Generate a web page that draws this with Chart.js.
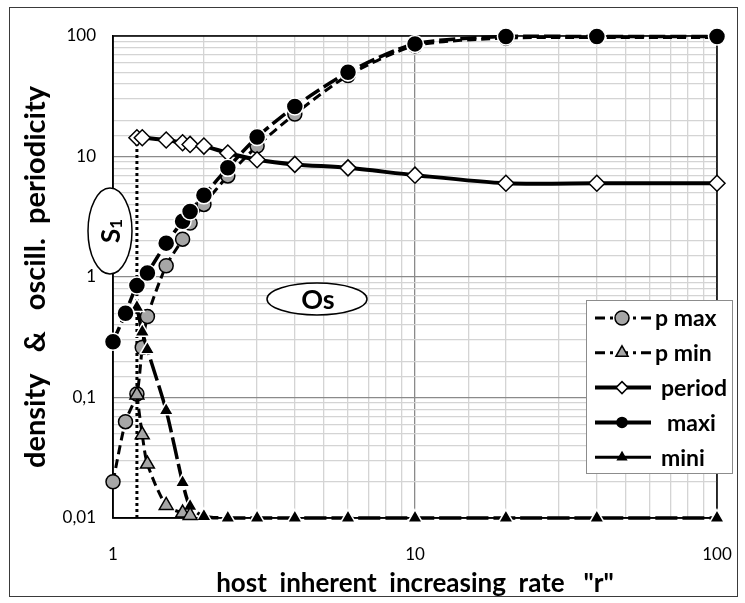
<!DOCTYPE html>
<html>
<head>
<meta charset="utf-8">
<script src="https://cdn.jsdelivr.net/npm/chart.js@4.4.0/dist/chart.umd.min.js"></script>
<style>
body { margin: 0; background: #fff; }
#wrap { position: relative; width: 745px; height: 603px; }
</style>
</head>
<body>
<div id="wrap"><canvas id="chart" width="745" height="603"></canvas></div>
<script>
// values (log-log axes)
var pMaxR = [1, 1.1, 1.2, 1.25, 1.3, 1.5, 1.7, 1.8, 2, 2.4, 3, 4, 6, 10, 20, 40, 100];
var pMax = [0.02, 0.063, 0.107, 0.26, 0.47, 1.24, 2.06, 2.8, 4.0, 6.9, 12.2, 22.5, 47, 83, 96, 97, 97];
var pMinR = [1.2, 1.25, 1.3, 1.5, 1.7, 1.8];
var pMin = [0.105, 0.049, 0.028, 0.0127, 0.011, 0.0105];
var periodR = [1.2, 1.25, 1.5, 1.7, 1.8, 2, 2.4, 3, 4, 6, 10, 20, 40, 100];
var period = [14.3, 14.3, 13.7, 13, 12.6, 12.2, 10.7, 9.4, 8.6, 8.05, 7, 6, 6, 6];
var maxiR = [1, 1.1, 1.2, 1.3, 1.5, 1.7, 1.8, 2, 2.4, 3, 4, 6, 10, 20, 40, 100];
var maxi = [0.29, 0.5, 0.85, 1.08, 1.91, 2.9, 3.5, 4.76, 8.05, 14.5, 26, 50, 86, 99, 99, 99];
var miniR = [1.2, 1.25, 1.3, 1.5, 1.7, 1.8, 2, 2.4, 3, 4, 6, 10, 20, 40, 100];
var mini = [0.56, 0.35, 0.25, 0.078, 0.0197, 0.0125, 0.0103, 0.01, 0.01, 0.01, 0.01, 0.01, 0.01, 0.01, 0.01];
var bifurR = [1.2, 1.2];
var bifur = [0.01, 14.3];
var yTickLabels = {'100': '100', '10': '10', '1': '1', '0.1': '0,1', '0.01': '0,01'};

function pts(xs, ys) {
	var out = [];
	for (var i = 0; i < xs.length; i++) out.push({x: xs[i], y: ys[i]});
	return out;
}

function isMajor(v) {
	var l = Math.log10(v);
	return Math.abs(l - Math.round(l)) < 1e-6;
}

var FONT = 'Lato, "Open Sans", sans-serif';

var legendItems = [
	{label: 'p max', dash: [10, 5, 3, 5], width: 3, style: 'circle', r: 7, fill: '#a6a6a6', stroke: '#000', tx: 655},
	{label: 'p min', dash: [10, 5, 3, 5], width: 3, style: 'triangle', r: 7, fill: '#a6a6a6', stroke: '#000', tx: 655},
	{label: 'period', dash: [], width: 4, style: 'rectRot', r: 6, fill: '#fff', stroke: '#000', tx: 661},
	{label: 'maxi', dash: [], width: 4, style: 'circle', r: 5, fill: '#000', stroke: '#000', tx: 667},
	{label: 'mini', dash: [], width: 3, style: 'triangle', r: 5, fill: '#000', stroke: '#000', tx: 661}
];

var extras = {
	id: 'extras',
	beforeDatasetsDraw: function(chart) {
		var ctx = chart.ctx, a = chart.chartArea;
		ctx.save();
		ctx.strokeStyle = '#000';
		ctx.lineWidth = 1.5;
		ctx.strokeRect(a.left, a.top, a.right - a.left, a.bottom - a.top);
		ctx.restore();
	},
	afterDraw: function(chart) {
		var ctx = chart.ctx;
		ctx.save();
		// outer frame
		ctx.strokeStyle = '#3a3a3a';
		ctx.lineWidth = 1;
		ctx.strokeRect(9.5, 7.5, 728, 589);

		// S1 ellipse
		ctx.beginPath();
		ctx.ellipse(110, 231, 22, 43, 0, 0, Math.PI * 2);
		ctx.fillStyle = '#fff';
		ctx.fill();
		ctx.lineWidth = 1.5;
		ctx.strokeStyle = '#000';
		ctx.stroke();
		ctx.save();
		ctx.translate(112, 231);
		ctx.rotate(-Math.PI / 2);
		ctx.fillStyle = '#000';
		ctx.textBaseline = 'middle';
		ctx.font = 'bold 26px ' + FONT;
		var sw = ctx.measureText('S').width;
		ctx.font = 'bold 17px ' + FONT;
		var iw = ctx.measureText('1').width;
		var x0 = -(sw + iw) / 2;
		ctx.font = 'bold 26px ' + FONT;
		ctx.fillText('S', x0, 0);
		ctx.font = 'bold 17px ' + FONT;
		ctx.fillText('1', x0 + sw, 5);
		ctx.restore();

		// Os ellipse
		ctx.beginPath();
		ctx.ellipse(317, 299, 50, 16, 0, 0, Math.PI * 2);
		ctx.fillStyle = '#fff';
		ctx.fill();
		ctx.stroke();
		ctx.fillStyle = '#000';
		ctx.font = 'bold 27px ' + FONT;
		ctx.textAlign = 'center';
		ctx.textBaseline = 'middle';
		ctx.fillText('Os', 318, 300);

		// legend
		ctx.fillStyle = '#fff';
		ctx.fillRect(586, 300, 146, 173);
		ctx.strokeStyle = '#8c8c8c';
		ctx.lineWidth = 1;
		ctx.strokeRect(586.5, 300.5, 146, 173);
		ctx.textAlign = 'left';
		ctx.font = 'bold 23px ' + FONT;
		for (var i = 0; i < legendItems.length; i++) {
			var it = legendItems[i];
			var y = 318 + i * 34.8;
			ctx.beginPath();
			ctx.setLineDash(it.dash);
			ctx.lineWidth = it.width;
			ctx.strokeStyle = '#000';
			ctx.moveTo(595, y);
			ctx.lineTo(651, y);
			ctx.stroke();
			ctx.setLineDash([]);
			ctx.fillStyle = it.fill;
			ctx.strokeStyle = it.stroke;
			ctx.lineWidth = 1.5;
			Chart.helpers.drawPoint(ctx, {pointStyle: it.style, radius: it.r, borderWidth: 1.5}, 622, y);
			ctx.fillStyle = '#000';
			ctx.fillText(it.label, it.tx, y + 1);
		}
		ctx.restore();
	}
};

var ctx = document.getElementById('chart').getContext('2d');
var chart = new Chart(ctx, {
	type: 'line',
	data: {
		datasets: [
			{
				label: 'p max', data: pts(pMaxR, pMax), order: 5,
				borderColor: '#000', borderWidth: 3, borderDash: [9, 5],
				pointStyle: 'circle', pointRadius: 7, pointBackgroundColor: '#a6a6a6',
				pointBorderColor: '#000', pointBorderWidth: 1.5
			},
			{
				label: 'p min', data: pts(pMinR, pMin), order: 3,
				borderColor: '#000', borderWidth: 3, borderDash: [9, 5],
				pointStyle: 'triangle', pointRadius: 8, pointBackgroundColor: '#a6a6a6',
				pointBorderColor: '#000', pointBorderWidth: 1.5
			},
			{
				label: 'period', data: pts(periodR, period), order: 2,
				borderColor: '#000', borderWidth: 4,
				pointStyle: 'rectRot', pointRadius: 8, pointBackgroundColor: '#fff',
				pointBorderColor: '#000', pointBorderWidth: 1.5
			},
			{
				label: 'maxi', data: pts(maxiR, maxi), order: 1,
				borderColor: '#000', borderWidth: 3.5, borderDash: [16, 5],
				pointStyle: 'circle', pointRadius: 8.5, pointBackgroundColor: '#000',
				pointBorderColor: '#fff', pointBorderWidth: 1.5
			},
			{
				label: 'mini', data: pts(miniR, mini), order: 4,
				borderColor: '#000', borderWidth: 3.5, borderDash: [22, 5],
				pointStyle: 'triangle', pointRadius: 8.5, pointBackgroundColor: '#000',
				pointBorderColor: '#fff', pointBorderWidth: 1.5
			},
			{
				label: 'bifurcation', data: pts(bifurR, bifur), order: 6,
				borderColor: '#000', borderWidth: 3, borderDash: [3, 3],
				pointRadius: 0, tension: 0
			}
		]
	},
	options: {
		responsive: false,
		animation: false,
		layout: {padding: {left: 0, top: 36, right: 28, bottom: 0}},
		elements: {line: {tension: 0.25}},
		datasets: {line: {clip: false}},
		plugins: {legend: {display: false}, tooltip: {enabled: false}},
		scales: {
			x: {
				type: 'logarithmic', min: 1, max: 100,
				afterFit: function(s) { s.height = 85; s.paddingRight = 0; s.paddingLeft = 0; },
				border: {color: '#000', width: 1.5},
				grid: {
					drawTicks: false,
					color: function(c) { return c.tick && isMajor(c.tick.value) ? '#8a8a8a' : '#d4d4d4'; },
					lineWidth: 1.3
				},
				ticks: {
					autoSkip: false, maxRotation: 0, padding: 26, color: '#000',
					font: {family: FONT, size: 17},
					callback: function(v) { return isMajor(v) ? String(Math.round(v)) : ''; }
				},
				title: {
					display: true, text: 'host  inherent  increasing  rate   "r"', color: '#000',
					font: {family: FONT, size: 26, weight: 'bold'}, padding: {top: 0, bottom: 4}
				}
			},
			y: {
				type: 'logarithmic', min: 0.01, max: 100,
				afterFit: function(s) { s.width = 113; },
				border: {color: '#000', width: 1.5},
				grid: {
					drawTicks: false,
					color: function(c) { return c.tick && isMajor(c.tick.value) ? '#8a8a8a' : '#d4d4d4'; },
					lineWidth: 1.3
				},
				ticks: {
					autoSkip: false, padding: 17, color: '#000',
					font: {family: FONT, size: 17},
					callback: function(v) {
						if (!isMajor(v)) return '';
						var k = String(Math.pow(10, Math.round(Math.log10(v))));
						return yTickLabels[k] || k;
					}
				},
				title: {
					display: true, text: 'density   &   oscill.  periodicity', color: '#000',
					font: {family: FONT, size: 29, weight: 'bold'}, padding: {top: 18, bottom: 0}
				}
			}
		}
	},
	plugins: [extras]
});
</script>
</body>
</html>
